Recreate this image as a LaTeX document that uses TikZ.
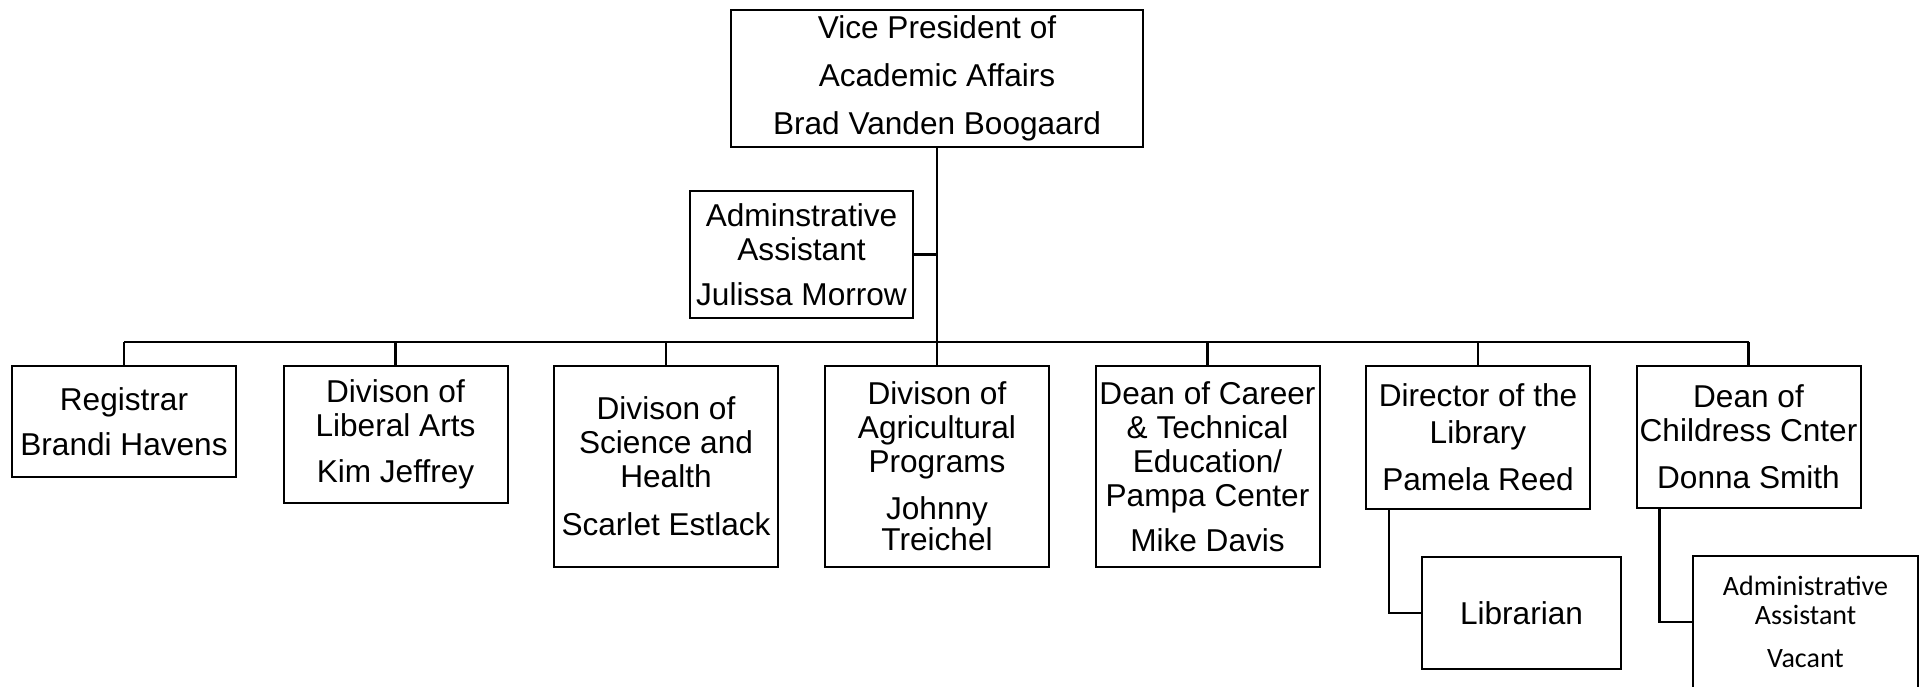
\documentclass[tikz,border=0pt]{standalone}
\usepackage{fontspec}
\setmainfont{Liberation Sans}
\newfontfamily\calfont{Carlito}

\tikzset{
  orgbox/.style={draw, line width=2pt, inner sep=0pt, align=center,
    minimum width=224, font=\fontsize{31.6}{34}\selectfont},
  link/.style={line width=2.5pt}
}

\begin{document}
\begin{tikzpicture}[x=1pt,y=-1pt]
\useasboundingbox (0,0) rectangle (1925,686);

% Chart levels
\def\busy{342}
\def\rowtop{366}

% Top of the chart
\node[orgbox, minimum width=412, minimum height=137] (vp) at (937,78)
  {Vice President of\\[14pt]Academic Affairs\\[14pt]Brad Vanden Boogaard};
\node[orgbox, minimum width=223, minimum height=127] (adm) at (801.5,254.5)
  {Adminstrative\\Assistant\\[11pt]Julissa Morrow};
\coordinate (bus) at (937,\busy);

% Second row
\node[orgbox, minimum height=111] (reg) at (124,\rowtop+55.5)
  {Registrar\\[11pt]Brandi Havens};
\node[orgbox, minimum height=137] (libarts) at (395.5,\rowtop+68.5)
  {Divison of\\Liberal Arts\\[12pt]Kim Jeffrey};
\node[orgbox, minimum height=201] (sci) at (666,\rowtop+100.5)
  {Divison of\\Science and\\Health\\[14pt]Scarlet Estlack};
\node[orgbox, minimum height=201] (agri) at (937,\rowtop+100.5)
  {Divison of\\Agricultural\\Programs\\[13pt]Johnny\\[-3pt]Treichel};
\node[orgbox, minimum height=201] (career) at (1207.5,\rowtop+100.5)
  {Dean of Career\\\& Technical\\Education/\\Pampa Center\\[11pt]Mike Davis};
\node[orgbox, minimum height=143] (library) at (1478,\rowtop+71.5)
  {Director of the\\[3pt]Library\\[13pt]Pamela Reed};
\node[orgbox, minimum height=142] (child) at (1748.5,\rowtop+71)
  {Dean of\\Childress Cnter\\[13pt]Donna Smith};

% Third row
\node[orgbox, minimum width=199, minimum height=112] (librn) at (1521.5,613)
  {Librarian};
\node[orgbox, minimum width=225, minimum height=132,
  font=\calfont\fontsize{28}{29}\selectfont] (vac) at (1805.5,622)
  {Administrative\\Assistant\\[14pt]Vacant};

% Connectors
\draw[link] (vp.south) -- (agri.north);
\draw[link] (adm.east) -- (adm.east -| vp.south);
\draw[link] (reg.north |- bus) -- (child.north |- bus);
\foreach \nm in {reg,libarts,sci,career,library,child} {
    \draw[link] (\nm.north) -- (\nm.north |- bus);
}
\draw[link] ([xshift=24pt]library.south west) |- (librn.west);
\draw[link] ([xshift=24pt]child.south west) |- (vac.west);

\end{tikzpicture}
\end{document}
